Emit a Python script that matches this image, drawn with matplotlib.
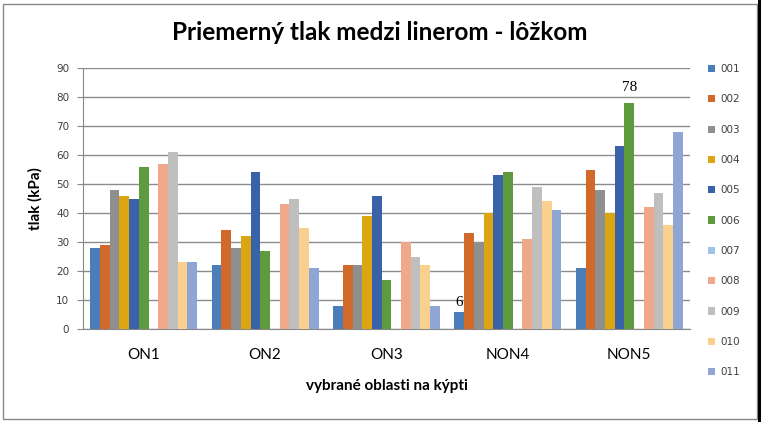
import matplotlib
matplotlib.use("Agg")
import matplotlib.pyplot as plt
import numpy as np
from matplotlib.patches import Rectangle, Patch

categories = ["ON1", "ON2", "ON3", "NON4", "NON5"]
series_names = ["001", "002", "003", "004", "005", "006", "007", "008", "009", "010", "011"]
s001 = [28, 22, 8, 6, 21]
s002 = [29, 34, 22, 33, 55]
s003 = [48, 28, 22, 30, 48]
s004 = [46, 32, 39, 40, 40]
s005 = [45, 54, 46, 53, 63]
s006 = [56, 27, 17, 54, 78]
s007 = [0, 0, 0, 0, 0]
s008 = [57, 43, 30, 31, 42]
s009 = [61, 45, 25, 49, 47]
s010 = [23, 35, 22, 44, 36]
s011 = [23, 21, 8, 41, 68]
series = [s001, s002, s003, s004, s005, s006, s007, s008, s009, s010, s011]
colors = ["#4A7EBB", "#D0692A", "#8F8F8F", "#DCA512", "#3A62A8", "#5E9A3E",
          "#9DC3E6", "#EFA88A", "#BFBFBF", "#FAD08E", "#8FA5D4"]
yticks = [0, 10, 20, 30, 40, 50, 60, 70, 80, 90]

fig = plt.figure(figsize=(7.64, 4.22), dpi=100)
W, H = 764, 422
ax = fig.add_axes([83 / W, 1 - 329 / H, (690 - 83) / W, (329 - 68) / H])

n = len(series)
group_w = 0.88
bw = group_w / n
x = np.arange(len(categories))
for i, (vals, c) in enumerate(zip(series, colors)):
    pos = x - group_w / 2 + bw * (i + 0.5)
    ax.bar(pos, vals, width=bw, color=c, zorder=3)

# data labels
lbl_font = dict(family="Liberation Serif", fontsize=11, color="black")
i6 = 0
ax.text(x[3] - group_w / 2 + bw * (i6 + 0.5), s001[3] + 1, str(s001[3]), ha="center", va="bottom", **lbl_font)
i78 = 5
ax.text(x[4] - group_w / 2 + bw * (i78 + 0.5), s006[4] + 3, str(s006[4]), ha="center", va="bottom", **lbl_font)

ax.set_xlim(-0.5, len(categories) - 0.5)
ax.set_ylim(0, 90)
ax.set_yticks(yticks)
ax.set_yticklabels([str(t) for t in yticks], fontsize=7.5, color="#404040", family="DejaVu Sans")
ax.set_xticks(x)
ax.set_xticklabels(categories, fontsize=11, family="Lato", color="black")
ax.tick_params(axis="x", length=0, pad=14)
ax.tick_params(axis="y", length=4, color="#888888", direction="out", pad=6)
ax.yaxis.grid(True, color="#8C8C8C", linewidth=1.0, zorder=0)
for s in ["top", "right"]:
    ax.spines[s].set_visible(False)
ax.spines["left"].set_color("#888888")
ax.spines["bottom"].set_color("#888888")

ax.set_ylabel("tlak (kPa)", fontsize=11, fontweight="bold", family="Lato", labelpad=10)
ax.set_xlabel("vybrané oblasti na kýpti", fontsize=11, fontweight="bold", family="Lato", labelpad=12)

fig.text(380 / W, 1 - 32 / H, "Priemerný tlak medzi linerom - lôžkom", ha="center", va="center",
         fontsize=17.5, family="Lato", fontweight="bold")

handles = [Patch(facecolor=c, edgecolor="none") for c in colors]
leg = fig.legend(handles, series_names, loc="upper left", bbox_to_anchor=(704 / W, 1 - 60 / H),
                 frameon=False, fontsize=7.5, handlelength=0.7, handleheight=0.7,
                 handletextpad=0.5, labelspacing=1.95, borderaxespad=0)
for t in leg.get_texts():
    t.set_color("#404040")

# outer border
fig.patches.append(Rectangle((3 / W, 3 / H), (757 - 3) / W, (418 - 3) / H, transform=fig.transFigure,
                             fill=False, edgecolor="#888888", linewidth=1))
fig.patches.append(Rectangle((758 / W, 0), 3 / W, 1, transform=fig.transFigure,
                             facecolor="black", edgecolor="none"))

fig.savefig("out.png", dpi=100)
